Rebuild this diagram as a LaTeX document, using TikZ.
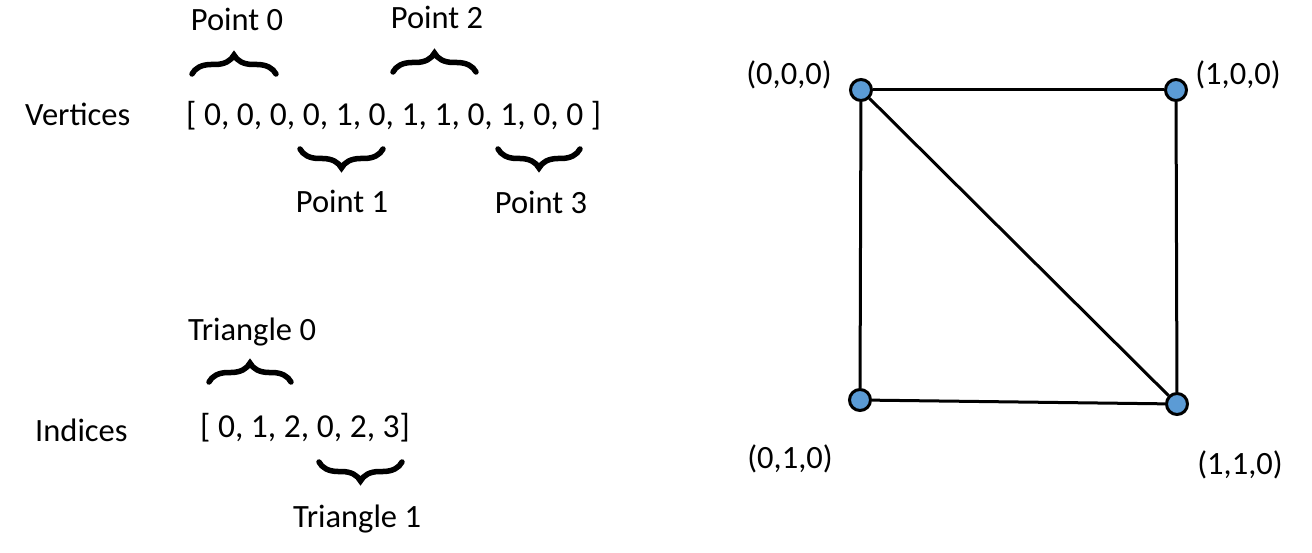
\documentclass[tikz,border=0pt]{standalone}
\usepackage{fontspec}
\setmainfont{Carlito}
\usetikzlibrary{decorations.pathreplacing}
\definecolor{ptblue}{HTML}{5B9BD5}
\begin{document}
\begin{tikzpicture}[x=1pt,y=-1pt,
  txt/.style={font=\fontsize{32.5}{39}\selectfont, inner sep=0pt, anchor=base},
  txtw/.style={txt, anchor=base west},
  arr/.style={font=\fontsize{33.5}{40}\selectfont, inner sep=0pt, anchor=base west},
  bracestyle/.style={decorate, decoration={brace, amplitude=19pt}, line width=5.5pt, line cap=round},
  vert/.style={circle, draw=black, line width=3pt, fill=ptblue, minimum size=21pt, inner sep=0pt},
  edge/.style={line width=3pt}]
\useasboundingbox (0,0) rectangle (1312,553);

% Vertices array
\node[txtw] (vlab) at (25,126) {Vertices};
\node[arr] (varr) at (186,126) {[ 0, 0, 0, 0, 1, 0, 1, 1, 0, 1, 0, 0 ]};

\coordinate (b0a) at (192,74); \coordinate (b0b) at (276,74);
\coordinate (b2a) at (393,72); \coordinate (b2b) at (476,72);
\coordinate (b1a) at (383,149); \coordinate (b1b) at (300,149);
\coordinate (b3a) at (580,149); \coordinate (b3b) at (498,149);
\draw[bracestyle] (b0a) -- (b0b);
\draw[bracestyle] (b2a) -- (b2b);
\draw[bracestyle] (b1a) -- (b1b);
\draw[bracestyle] (b3a) -- (b3b);

\node[txt] (p0) at (237,31) {Point 0};
\node[txt] (p2) at (437,29) {Point 2};
\node[txt] (p1) at (342,213) {Point 1};
\node[txt] (p3) at (541,214) {Point 3};

% Indices array
\node[txtw] (ilab) at (35,441) {Indices};
\node[arr] (iarr) at (200,437) {[ 0, 1, 2, 0, 2, 3]};

\coordinate (t0a) at (209,382); \coordinate (t0b) at (291,382);
\coordinate (t1a) at (402,462); \coordinate (t1b) at (319,462);
\draw[bracestyle] (t0a) -- (t0b);
\draw[bracestyle] (t1a) -- (t1b);

\node[txt] (tr0) at (252,341) {Triangle 0};
\node[txt] (tr1) at (357,527) {Triangle 1};

% Mesh
\node[vert] (v0) at (861,90) {};
\node[vert] (v3) at (1176,90) {};
\node[vert] (v1) at (860,400) {};
\node[vert] (v2) at (1177,404) {};
\draw[edge] (v0) -- (v3);
\draw[edge] (v3) -- (v2);
\draw[edge] (v0) -- (v1);
\draw[edge] (v1) -- (v2);
\draw[edge] (v0) -- (v2);

\node[txt, anchor=center] (l0) at (789,75) {(0,0,0)};
\node[txt, anchor=center] (l3) at (1238,75) {(1,0,0)};
\node[txt, anchor=center] (l1) at (790,459) {(0,1,0)};
\node[txt, anchor=center] (l2) at (1240,465) {(1,1,0)};
\end{tikzpicture}
\end{document}
